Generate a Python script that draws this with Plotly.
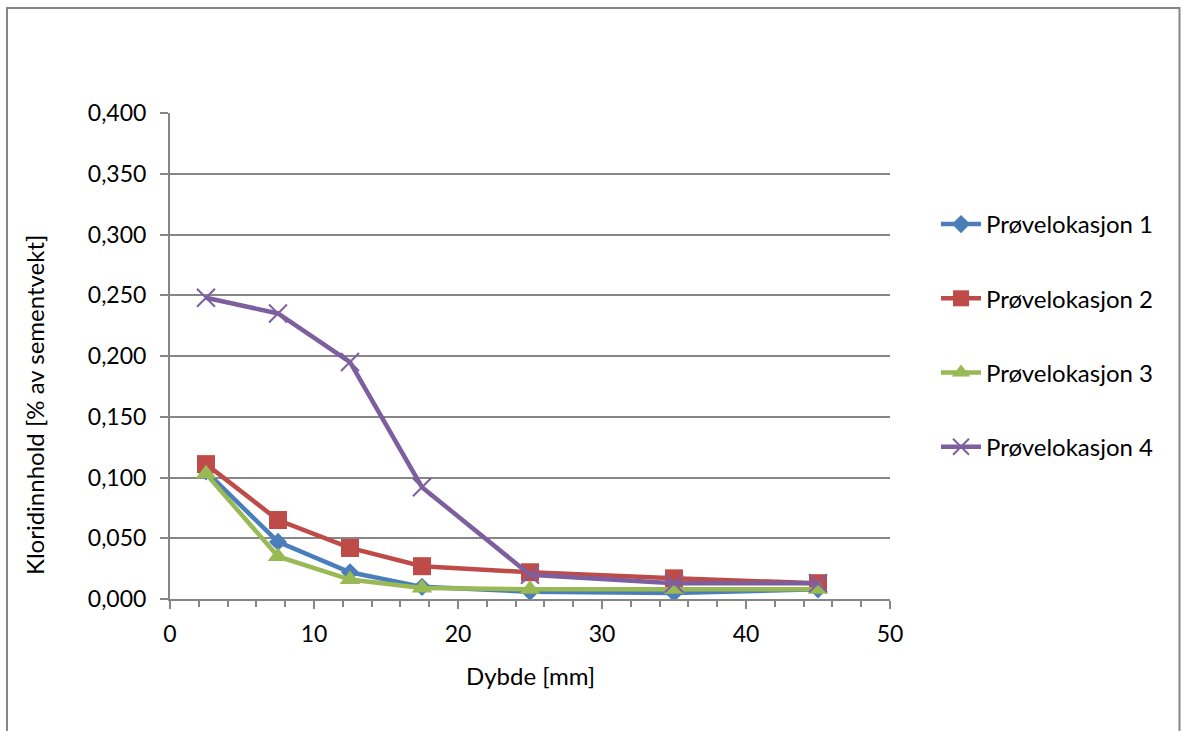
import plotly.graph_objects as go

# Dybde (mm) for hver prøve
dybde = [2.5, 7.5, 12.5, 17.5, 25, 35, 45]

# Kloridinnhold [% av sementvekt] per prøvelokasjon
lok1 = [0.105, 0.047, 0.022, 0.010, 0.006, 0.005, 0.008]
lok2 = [0.111, 0.065, 0.042, 0.027, 0.022, 0.017, 0.013]
lok3 = [0.103, 0.035, 0.016, 0.009, 0.008, 0.008, 0.008]
lok4 = [0.248, 0.235, 0.195, 0.092, 0.020, 0.013, 0.013]

navn = ["Prøvelokasjon 1", "Prøvelokasjon 2", "Prøvelokasjon 3", "Prøvelokasjon 4"]
farger = ["#4A7EBB", "#BE4B48", "#98B954", "#7D5FA0"]

y_ticks = [0, 0.05, 0.1, 0.15, 0.2, 0.25, 0.3, 0.35, 0.4]
y_ticktext = [f"{v:.3f}".replace(".", ",") for v in y_ticks]
x_ticks = [0, 10, 20, 30, 40, 50]

FONT = "Lato"
GRAY = "#868686"

fig = go.Figure()

markers = [
    dict(symbol="diamond", size=14),
    dict(symbol="square", size=18),
    dict(symbol="triangle-up", size=18),
    dict(symbol="x-thin-open", size=18),
]

for serie, n, c, m in zip([lok1, lok2, lok3, lok4], navn, farger, markers):
    mk = dict(color=c, **m)
    if m["symbol"] == "x-thin-open":
        mk["line"] = dict(color=c, width=2)
    else:
        mk["line"] = dict(width=0)
    fig.add_trace(go.Scatter(
        x=dybde, y=serie, name=n, mode="lines+markers",
        line=dict(color=c, width=4.5),
        marker=mk,
        legendgroup=n,
    ))

# plot area: x 170..890, y 113..599 in a 1186x731 canvas
W, H = 1186, 731
L, R, T, B = 170, 890, 113, 599

def px_x(p):
    return (p - L) / (R - L)

def px_y(p):
    return (B - p) / (B - T)

fig.update_layout(
    width=W, height=H,
    margin=dict(l=L, r=W - R, t=T, b=H - B, pad=0),
    paper_bgcolor="white", plot_bgcolor="white",
    font=dict(family=FONT, size=23, color="black"),
    showlegend=True,
    legend=dict(
        x=px_x(936), y=px_y(202), xanchor="left", yanchor="top",
        font=dict(family=FONT, size=24, color="black"),
        tracegroupgap=40,
        itemwidth=40,
        bgcolor="rgba(0,0,0,0)",
    ),
    xaxis=dict(
        range=[0, 50], tickvals=x_ticks, ticktext=[str(v) for v in x_ticks],
        showgrid=False, zeroline=False,
        showline=True, linecolor=GRAY, linewidth=2,
        ticks="outside", ticklen=8, tickwidth=2, tickcolor=GRAY,
        minor=dict(dtick=2, ticks="outside", ticklen=6, tickwidth=2,
                   tickcolor=GRAY, showgrid=False),
        tickfont=dict(family=FONT, size=23),
        ticklabelstandoff=5,
        fixedrange=True,
    ),
    yaxis=dict(
        range=[0, 0.4], tickvals=y_ticks, ticktext=y_ticktext,
        showgrid=True, gridcolor=GRAY, gridwidth=2,
        zeroline=False,
        showline=True, linecolor=GRAY, linewidth=2,
        ticks="outside", ticklen=8, tickwidth=2, tickcolor=GRAY,
        tickfont=dict(family=FONT, size=23),
        ticklabelstandoff=9,
        fixedrange=True,
    ),
    annotations=[
        dict(text="Dybde [mm]", x=px_x(530), y=px_y(675), xref="paper", yref="paper",
             showarrow=False, font=dict(family=FONT, size=24), xanchor="center", yanchor="middle"),
        dict(text="Kloridinnhold [% av sementvekt]", x=px_x(35), y=px_y(405),
             xref="paper", yref="paper", showarrow=False, textangle=-90,
             font=dict(family=FONT, size=24), xanchor="center", yanchor="middle"),
    ],
    shapes=[
        dict(type="rect", xref="paper", yref="paper",
             x0=px_x(7), x1=px_x(1179.5), y0=px_y(8), y1=px_y(740),
             line=dict(color=GRAY, width=2), fillcolor="rgba(0,0,0,0)", layer="below"),
    ],
)

fig.write_html("out.html")
